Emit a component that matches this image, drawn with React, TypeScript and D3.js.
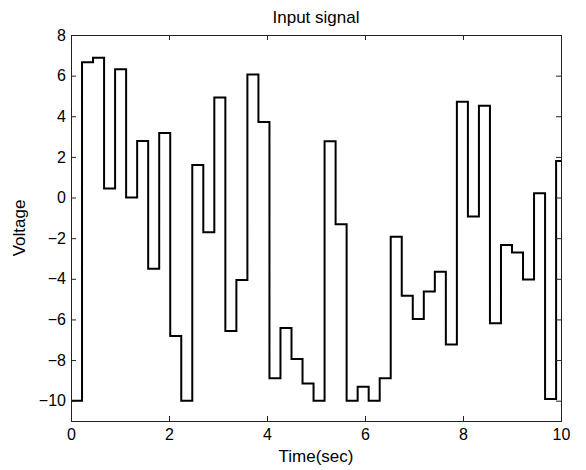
import React, { useRef, useEffect } from 'react';
import * as d3 from 'd3';

// sample start times (sec), last entry is where the final step ends
const stepTimes = [
  0, 0.225, 0.45, 0.675, 0.9, 1.125, 1.35, 1.575, 1.8, 2.025,
  2.25, 2.475, 2.7, 2.925, 3.15, 3.375, 3.6, 3.825, 4.05, 4.275,
  4.5, 4.725, 4.95, 5.175, 5.4, 5.625, 5.85, 6.075, 6.3, 6.525,
  6.75, 6.975, 7.2, 7.425, 7.65, 7.875, 8.1, 8.325, 8.55, 8.775,
  9.0, 9.225, 9.45, 9.675, 9.9, 10.125
];

const voltage = [
  -10, 6.66, 6.88, 0.45, 6.31, 0, 2.78, -3.5, 3.18, -6.82,
  -10, 1.6, -1.71, 4.92, -6.57, -4.06, 6.06, 3.72, -8.9, -6.42,
  -7.95, -9.15, -10, 2.77, -1.32, -10, -9.31, -10, -8.9, -1.93,
  -4.83, -5.98, -4.63, -3.65, -7.23, 4.72, -0.94, 4.52, -6.19, -2.34,
  -2.71, -4.03, 0.21, -9.92, 1.8
];

const xTicks = [0, 2, 4, 6, 8, 10];
const yTicks = [-10, -8, -6, -4, -2, 0, 2, 4, 6, 8];

const title = 'Input signal';
const xLabel = 'Time(sec)';
const yLabel = 'Voltage';

const App = () => {
  const chart = useRef<SVGSVGElement>(null);

  useEffect(() => {
    const width = 586;
    const height = 470;
    const margin = { top: 35, right: 25, bottom: 49, left: 71 };
    const innerW = width - margin.left - margin.right;
    const innerH = height - margin.top - margin.bottom;
    const font = '"Liberation Sans", Arial, Helvetica, sans-serif';

    const svg = d3.select(chart.current);
    svg.selectAll('*').remove();
    svg.attr('width', width).attr('height', height);

    const x = d3.scaleLinear().domain([0, 10]).range([0, innerW]);
    const y = d3.scaleLinear().domain([-11, 8]).range([innerH, 0]);

    svg.append('defs').append('clipPath').attr('id', 'plot-clip')
      .append('rect').attr('width', innerW).attr('height', innerH);

    const g = svg.append('g').attr('transform', `translate(${margin.left},${margin.top})`);

    const points: [number, number][] = stepTimes.map((t, i) => [t, voltage[Math.min(i, voltage.length - 1)]]);

    const line = d3.line<[number, number]>()
      .x(d => x(d[0]))
      .y(d => y(d[1]))
      .curve(d3.curveStepAfter);

    g.append('path')
      .datum(points)
      .attr('clip-path', 'url(#plot-clip)')
      .attr('fill', 'none')
      .attr('stroke', '#000')
      .attr('stroke-width', 2)
      .attr('d', line);

    const styleAxis = (sel: any) => {
      sel.select('.domain').remove();
      sel.selectAll('line').attr('stroke', '#222');
      sel.selectAll('text').attr('fill', '#000').style('font-family', font).style('font-size', '16px');
    };

    g.append('g')
      .attr('transform', `translate(0,${innerH})`)
      .call(d3.axisBottom(x).tickValues(xTicks).tickSizeInner(-5).tickSizeOuter(0).tickPadding(8))
      .call(styleAxis);

    g.append('g')
      .call(d3.axisTop(x).tickValues(xTicks).tickSizeInner(-5).tickSizeOuter(0).tickFormat(() => ''))
      .call(styleAxis);

    g.append('g')
      .call(d3.axisLeft(y).tickValues(yTicks).tickSizeInner(-5).tickSizeOuter(0).tickPadding(5))
      .call(styleAxis);

    g.append('g')
      .attr('transform', `translate(${innerW},0)`)
      .call(d3.axisRight(y).tickValues(yTicks).tickSizeInner(-5).tickSizeOuter(0).tickFormat(() => ''))
      .call(styleAxis);

    g.append('rect')
      .attr('x', 0.5).attr('y', 0.5)
      .attr('width', innerW).attr('height', innerH)
      .attr('fill', 'none')
      .attr('stroke', '#222')
      .attr('stroke-width', 1);

    svg.append('text')
      .attr('x', margin.left + innerW / 2)
      .attr('y', 23)
      .attr('text-anchor', 'middle')
      .style('font-family', font)
      .style('font-size', '17px')
      .text(title);

    svg.append('text')
      .attr('x', margin.left + innerW / 2)
      .attr('y', 462)
      .attr('text-anchor', 'middle')
      .style('font-family', font)
      .style('font-size', '17px')
      .text(xLabel);

    svg.append('text')
      .attr('transform', `translate(25,${margin.top + innerH / 2}) rotate(-90)`)
      .attr('text-anchor', 'middle')
      .style('font-family', font)
      .style('font-size', '17px')
      .text(yLabel);
  }, []);

  return (
    <svg ref={chart} style={{ position: 'absolute', left: 0, top: 0, background: '#fff' }}></svg>
  );
};

export default App;
